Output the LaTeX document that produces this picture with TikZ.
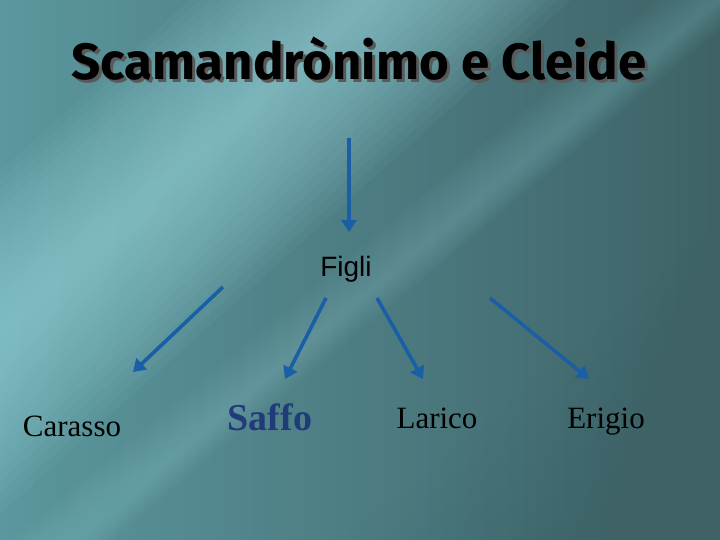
\documentclass[tikz,border=0pt]{standalone}
\usepackage{fontspec}
\setmainfont{Liberation Serif}
\newfontfamily\arialf{Liberation Sans}
\newfontfamily\titlef{Fira Sans}
\usetikzlibrary{arrows.meta}
\definecolor{bgl}{HTML}{5B979E}
\definecolor{bgm}{HTML}{4D7F84}
\definecolor{bgd}{HTML}{3E6266}
\definecolor{band}{HTML}{9EDAE1}
\definecolor{arr}{HTML}{1A5EA6}
\definecolor{saffoc}{HTML}{1F3B78}
\tikzset{
  conn/.style={draw=arr, line width=3.6pt, -{Triangle[length=12pt,width=15pt]}},
  namet/.style={font=\fontsize{31}{34}\selectfont, inner sep=0pt, anchor=base},
}
\newcommand{\shadowtext}[1]{\rlap{\kern3pt\raisebox{-3pt}{\textcolor{black!65}{#1}}}#1}
\begin{document}
\begin{tikzpicture}[x=1pt,y=-1pt]
\useasboundingbox (0,0) rectangle (720,540);
% background
\fill[left color=bgl, middle color=bgm, right color=bgd] (0,0) rectangle (720,540);
\begin{scope}
\clip (0,0) rectangle (720,540);
\begin{scope}[shift={(90,250)}, rotate=42]
\foreach \w in {10,20,...,170}{
  \fill[band, opacity=0.055] (-700,-\w*0.7) rectangle (700,\w*0.8);
}
\end{scope}
\begin{scope}[shift={(360,300)}, rotate=40]
\foreach \w in {5,10,...,40}{
  \fill[band, opacity=0.03] (-700,-\w) rectangle (700,\w*0.6);
}
\end{scope}
\begin{scope}[shift={(720,540)}, rotate=40]
\foreach \w in {20,40,...,240}{
  \fill[bgd, opacity=0.035] (-900,0) rectangle (900,-\w);
}
\end{scope}
\end{scope}
% title
\node[font=\titlef\bfseries\fontsize{51}{54}\selectfont, anchor=base, inner sep=0pt] (t) at (359,80) {\shadowtext{Scamandrònimo e Cleide}};
% Figli
\node[font=\arialf\fontsize{28}{32}\selectfont, anchor=base, inner sep=0pt] (f) at (346,276) {Figli};
\node[namet] (c) at (72,436) {Carasso};
\node[namet, font=\bfseries\fontsize{38}{40}\selectfont, text=saffoc] (s) at (270,430) {Saffo};
\node[namet] (l) at (437,428) {Larico};
\node[namet] (e) at (606,428) {Erigio};
% connector endpoints
\coordinate (a0) at (349,138);
\coordinate (a1) at (349,232);
\coordinate (b0) at (223,287);
\coordinate (b1) at (133,372);
\coordinate (c0) at (326,298);
\coordinate (c1) at (285,379);
\coordinate (d0) at (377,298);
\coordinate (d1) at (423,379);
\coordinate (e0) at (490,298);
\coordinate (e1) at (589,379);
\draw[conn] (a0) -- (a1);
\draw[conn] (b0) -- (b1);
\draw[conn] (c0) -- (c1);
\draw[conn] (d0) -- (d1);
\draw[conn] (e0) -- (e1);
\end{tikzpicture}
\end{document}
